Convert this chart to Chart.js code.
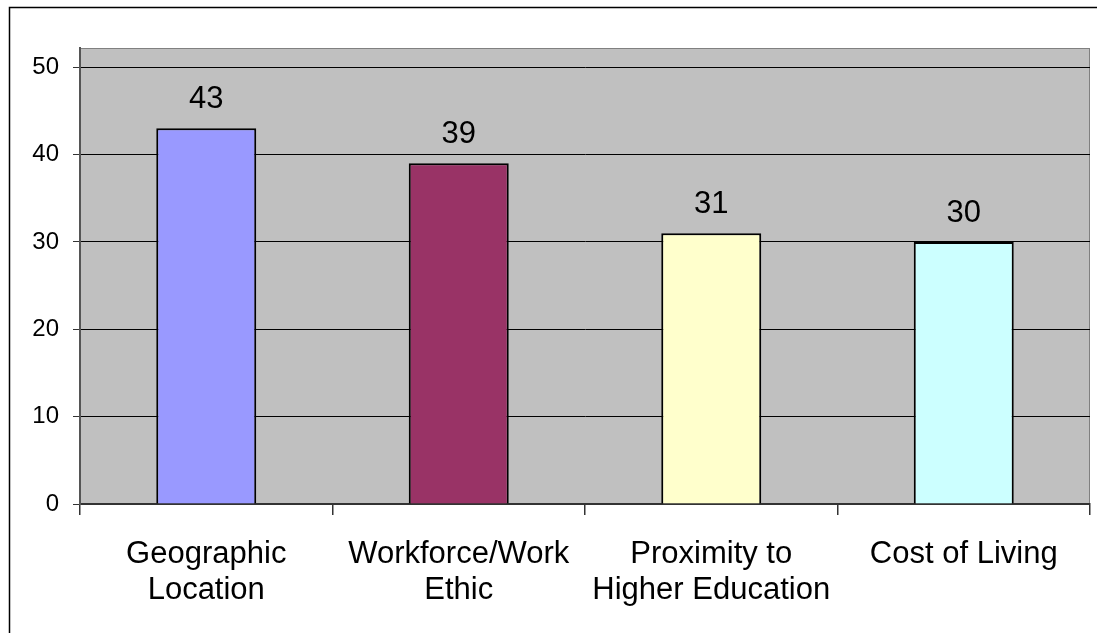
<!DOCTYPE html>
<html>
<head>
<meta charset="utf-8">
<script src="https://cdn.jsdelivr.net/npm/chart.js@4"></script>
<style>
  html, body { margin: 0; padding: 0; background: #fff; }
  #wrap { width: 1097px; height: 633px; }
</style>
</head>
<body>
<div id="wrap"><canvas id="chart" width="1097" height="633"></canvas></div>
<script>
const categories = [
  ["Geographic", "Location"],
  ["Workforce/Work", "Ethic"],
  ["Proximity to", "Higher Education"],
  ["Cost of Living"]
];
const values = [43, 39, 31, 30];
const barColors = ["#9999FF", "#993366", "#FFFFCC", "#CCFFFF"];
const yTicks = [0, 10, 20, 30, 40, 50];

const FONT = "'Liberation Sans', Arial, sans-serif";

// gray plot background, frame, and the outer border line
const plotArea = {
  id: "plotArea",
  beforeDraw(chart) {
    const { ctx, chartArea: a } = chart;
    ctx.save();
    ctx.fillStyle = "#C0C0C0";
    ctx.fillRect(a.left, a.top, a.right - a.left, a.bottom - a.top);
    ctx.strokeStyle = "#808080";
    ctx.lineWidth = 1;
    ctx.strokeRect(a.left + 0.5, a.top + 0.5, a.right - a.left - 1, a.bottom - a.top - 1);
    ctx.strokeStyle = "#000";
    ctx.lineWidth = 1.5;
    ctx.beginPath();
    ctx.moveTo(9.5, chart.height);
    ctx.lineTo(9.5, 7.5);
    ctx.lineTo(chart.width, 7.5);
    ctx.stroke();
    ctx.restore();
  }
};

// value above each bar
const valueLabels = {
  id: "valueLabels",
  afterDatasetsDraw(chart) {
    const { ctx } = chart;
    const meta = chart.getDatasetMeta(0);
    ctx.save();
    ctx.font = "31px " + FONT;
    ctx.fillStyle = "#000";
    ctx.textAlign = "center";
    ctx.textBaseline = "alphabetic";
    meta.data.forEach((bar, i) => {
      ctx.fillText(String(values[i]), bar.x, bar.y - 20);
    });
    ctx.restore();
  }
};

new Chart(document.getElementById("chart"), {
  type: "bar",
  data: {
    labels: categories,
    datasets: [{
      data: values,
      backgroundColor: barColors,
      borderColor: "#000",
      borderWidth: 2,
      barPercentage: 0.396,
      categoryPercentage: 1
    }]
  },
  options: {
    responsive: false,
    animation: false,
    layout: { padding: { top: 48, right: 7, left: 0, bottom: 0 } },
    plugins: {
      legend: { display: false },
      tooltip: { enabled: false }
    },
    scales: {
      x: {
        offset: true,
        grid: {
          offset: true,
          drawOnChartArea: false,
          drawTicks: true,
          tickLength: 11,
          color: "#333",
          lineWidth: 1.5
        },
        border: { display: true, color: "#333", width: 2 },
        ticks: {
          color: "#000",
          font: { family: FONT, size: 31, lineHeight: 1.15 },
          padding: 22,
          maxRotation: 0,
          autoSkip: false
        },
        afterFit(scale) { scale.height = 129; }
      },
      y: {
        min: 0,
        max: 52.2,
        afterBuildTicks(scale) {
          scale.ticks = yTicks.map(v => ({ value: v }));
        },
        grid: {
          color: "#000",
          lineWidth: 1,
          tickLength: 7,
          tickColor: "#333"
        },
        border: { display: true, color: "#555", width: 2 },
        ticks: {
          color: "#000",
          font: { family: FONT, size: 24 },
          padding: 14
        },
        afterFit(scale) { scale.width = 80; }
      }
    }
  },
  plugins: [plotArea, valueLabels]
});
</script>
</body>
</html>
